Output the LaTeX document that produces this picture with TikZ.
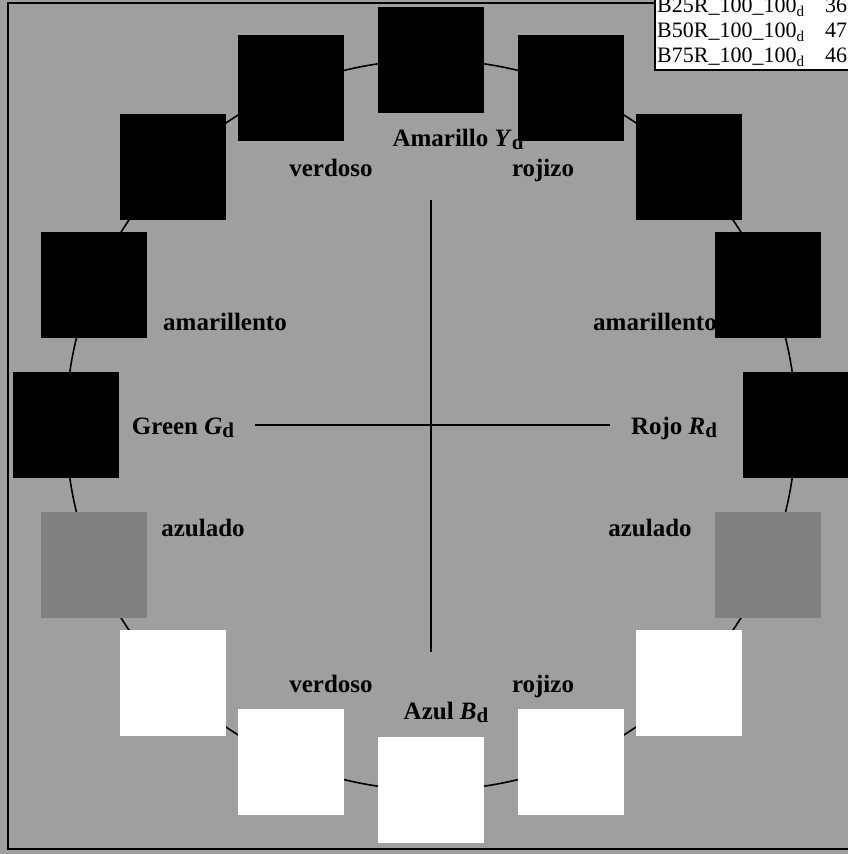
\documentclass[tikz,border=0pt]{standalone}
\usepackage{fontspec}
\setmainfont{Liberation Serif}
\definecolor{bggray}{HTML}{9F9F9F}
\definecolor{midgray}{HTML}{808080}
\newcommand\dsub[1]{\raisebox{-0.12em}{\fontsize{21}{21}\selectfont\bfseries #1}}
\newcommand\tsub[1]{\raisebox{-0.2em}{\fontsize{15}{15}\selectfont #1}}
\begin{document}
\begin{tikzpicture}[x=1pt,y=-1pt,
  sq/.style={minimum size=106pt, inner sep=0pt, outer sep=0pt, draw=none},
  lab/.style={font=\fontsize{25}{30}\selectfont\bfseries, inner sep=0pt, anchor=base},
  tab/.style={font=\fontsize{22}{26}\selectfont, inner sep=0pt, anchor=base west},
  axis/.style={line width=1.6pt},
  ring/.style={circle, draw, line width=1.6pt, minimum size=730pt, inner sep=0pt}]
\fill[bggray] (0,0) rectangle (848,854);
\useasboundingbox (0,0) rectangle (848,854);
\clip (0,0) rectangle (848,854);
% frame
\draw[line width=2pt] (8,3) rectangle (900,849);
% ring
\node[ring] (circ) at (431,425) {};
% axes
\coordinate (vt) at (431,200);
\coordinate (vb) at (431,652);
\coordinate (hl) at (255,425);
\coordinate (hr) at (610,425);
\draw[axis] (vt) -- (vb);
\draw[axis] (hl) -- (hr);
% labels
\node[lab] (lY) at (458,146) {Amarillo \textit{Y}\dsub{d}};
\node[lab] (lvt) at (331,176) {verdoso};
\node[lab] (lrt) at (543,176) {rojizo};
\node[lab] (lal) at (225,330) {amarillento};
\node[lab] (lar) at (655,330) {amarillento};
\node[lab] (lG) at (183,434) {Green \textit{G}\dsub{d}};
\node[lab] (lR) at (674,434) {Rojo \textit{R}\dsub{d}};
\node[lab] (lzl) at (203,536) {azulado};
\node[lab] (lzr) at (650,536) {azulado};
\node[lab] (lvb) at (331,692) {verdoso};
\node[lab] (lrb) at (543,692) {rojizo};
\node[lab] (lB) at (446,719) {Azul \textit{B}\dsub{d}};
% squares
\foreach \a/\c in {90/black,112.5/black,135/black,157.5/black,180/black,
  202.5/midgray,225/white,247.5/white,270/white,292.5/white,315/white,
  337.5/midgray,0/black,22.5/black,45/black,67.5/black}{
  \node[sq, fill=\c] (s\a) at ({431+365*cos(\a)},{425-365*sin(\a)}) {};
}
% table
\draw[fill=white, line width=1.5pt] (655,-10) rectangle (900,70);
\node[tab] (t1) at (657,12) {B25R\_100\_100\tsub{d}};
\node[tab] (t1n) at (825,12) {36};
\node[tab] (t2) at (657,37) {B50R\_100\_100\tsub{d}};
\node[tab] (t2n) at (825,37) {47};
\node[tab] (t3) at (657,62) {B75R\_100\_100\tsub{d}};
\node[tab] (t3n) at (825,62) {46};
\end{tikzpicture}
\end{document}
